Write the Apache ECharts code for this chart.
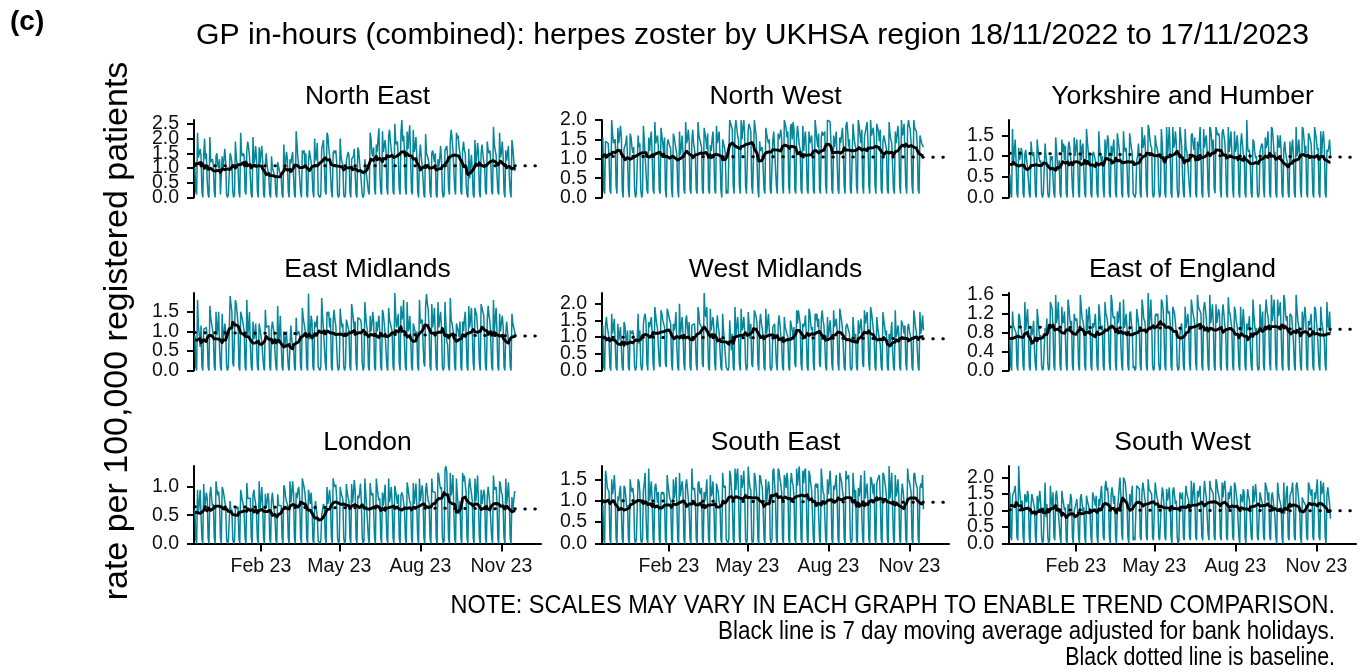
<!DOCTYPE html>
<html>
<head>
<meta charset="utf-8">
<script src="https://cdn.jsdelivr.net/npm/echarts@6/dist/echarts.min.js"></script>
<style>
html,body{margin:0;padding:0;background:#fff}
#chart{width:1371px;height:672px}
</style>
</head>
<body>
<div id="chart"></div>
<script>
// Daily GP in-hours herpes zoster rates per 100,000 registered patients,
// 18/11/2022 to 17/11/2023. Four weeks per row, each week Friday to Thursday.
const startDate = '2022-11-18';

const northEast = [
1.0,.2,.1,2.2,1.35,1.5,1.65, 1.4,.2,0,1.4,2.0,1.3,1.5, .55,.1,0,2.05,1.2,1.2,1.3, 1.1,.2,0,1.4,1.5,1.1,1.0,
1.3,.1,.1,1.4,.95,1.3,1.65, 1.2,.1,0,.1,.1,1.5,1.4, 1.2,.2,0,.1,1.9,1.4,1.1, 1.0,.2,0,2.2,1.5,1.4,1.5,
1.4,.2,.1,1.6,1.9,1.7,1.4, .65,.1,0,2.05,1.15,1.3,1.75, 1.3,.2,0,1.7,1.15,1.5,1.75, 1.2,.1,0,1.1,1.5,1.1,.9,
.7,.1,0,1.4,1.0,1.0,1.0, .7,.1,0,1.2,1.2,.9,.8, .7,.1,0,1.8,.95,1.2,1.55, 1.3,.2,0,1.3,1.15,1.2,1.55,
.75,.1,0,2.25,1.8,1.3,1.1, 1.1,.2,0,1.6,1.5,1.6,1.1, 1.5,.1,0,1.2,1.6,1.4,1.2, .9,.2,0,2.0,1.25,1.4,1.85,
.1,.1,0,.1,1.65,1.7,1.95, 1.2,.2,.1,2.2,2.1,1.7,1.4, 1.4,.2,0,1.5,1.6,1.5,1.6, 1.2,.1,0,.1,2.0,1.4,1.2,
1.1,.1,0,.1,1.25,1.3,1.55, 1.4,.2,0,1.3,1.25,1.4,1.65, .8,.1,0,1.7,1.6,1.2,.9, .9,.1,0,.1,1.3,1.0,1.0,
1.0,.2,.1,2.2,2.0,1.5,1.4, 1.7,.3,.1,1.8,1.55,2.0,2.35, .85,.2,.1,2.25,1.55,1.6,1.95, 1.6,.3,.1,2.1,2.3,1.9,1.6,
1.4,.2,.1,2.5,1.9,1.8,1.9, 1.3,.3,.1,2.2,2.63,1.9,2.1, 1.6,.3,.1,2.24,1.65,2.1,2.45, 1.2,.2,.1,2.3,1.55,1.7,2.05,
1.4,.2,0,1.4,1.8,1.4,1.1, .65,.1,0,2.15,1.5,1.4,1.3, 1.1,.2,0,1.5,1.6,1.4,1.2, 1.5,.1,0,1.3,1.05,1.3,1.75,
1.3,.2,0,.1,1.6,1.6,1.75, 1.4,.3,.1,1.94,2.3,2.0,1.6, 1.6,.3,.1,2.2,2.0,2.1,1.7, 1.5,.2,.1,1.6,1.9,1.6,1.5,
.45,.1,0,1.65,.65,1.1,1.45, .9,.1,0,1.95,1.15,1.4,1.85, 1.5,.2,0,1.5,1.8,1.5,1.2, 1.1,.2,.1,1.9,1.6,1.5,1.6,
1.2,.2,.1,2.4,1.8,1.6,1.45, .8,.2,.1,2.2,1.35,1.5,1.9, 1.4,.2,0,1.6,1.25,1.5,1.75, .75,.2,0,1.95,1.7,1.3,.9,
1.0
];

const northWest = [
1.55,.2,.1,1.45,1.5,1.5,1.4, 1.1,.2,.1,2.0,1.65,1.4,1.35, 1.5,.3,.1,1.8,1.4,1.6,1.85, 1.55,.2,0,1.25,1.3,1.4,1.6,
1.05,.2,0,1.65,1.55,1.3,1.15, 1.3,.2,0,.1,.1,1.6,1.3, 1.4,.2,0,.1,1.85,1.5,1.45, 1.45,.2,.1,1.55,1.2,1.5,1.7,
1.05,.2,.1,1.95,1.4,1.5,1.6, 1.3,.2,.1,1.8,1.75,1.4,1.15, 1.55,.2,0,1.35,1.5,1.4,1.4, 1.25,.2,0,1.65,1.55,1.4,1.25,
1.1,.2,0,1.7,1.1,1.3,1.6, 1.15,.2,.1,1.95,1.4,1.5,1.75, 1.45,.2,.1,1.45,1.75,1.4,1.25, 1.05,.2,.1,1.95,1.6,1.5,1.4,
1.3,.2,.1,1.8,1.65,1.5,1.25, 1.65,.2,.1,1.35,1.2,1.5,1.7, 1.15,.2,.1,1.85,1.4,1.4,1.7, 1.1,.2,0,1.5,1.55,1.3,1.15,
.1,.2,.1,.1,2.0,2.0,1.95, 1.75,.3,.1,1.75,2.0,1.8,1.6, 1.5,.3,.1,2.0,1.5,1.8,2.0, 1.6,.3,.1,.1,1.75,1.9,1.95,
1.7,.3,.1,.1,2.0,1.8,1.6, .95,.2,0,1.45,1.2,1.2,1.3, 1.3,.2,.1,1.8,1.75,1.5,1.4, 1.5,.2,.1,.1,1.5,1.7,1.7,
1.65,.3,.1,1.65,1.5,1.6,1.75, 1.5,.3,.1,2.0,2.0,1.8,1.55, 1.7,.3,.1,1.8,1.9,1.5,1.95, 1.75,.2,.1,1.55,1.85,1.6,1.35,
1.25,.2,.1,1.85,1.2,1.5,1.7, 1.2,.2,.1,1.7,1.4,1.5,1.6, 1.2,.2,.1,2.0,1.75,1.5,1.3, 1.65,.2,.1,1.55,1.7,1.6,1.6,
1.7,.3,.1,2.0,1.95,2.0,1.95, 1.4,.2,.1,1.6,1.3,1.5,1.7, 1.75,.2,.1,1.55,1.4,1.6,1.8, 1.35,.3,.1,1.85,1.95,1.7,1.3,
1.5,.2,.1,.1,1.9,1.6,1.4, 1.3,.3,.1,2.0,1.85,1.6,1.4, 1.75,.3,.1,1.55,1.5,1.6,1.95, 1.45,.3,.1,2.0,1.6,1.7,1.8,
1.5,.3,.1,1.9,1.95,1.7,1.45, 1.75,.2,.1,1.45,1.6,1.6,1.55, 1.25,.2,.1,1.95,1.65,1.5,1.4, 1.4,.2,.1,1.7,1.4,1.6,1.85,
1.5,.3,.1,2.0,1.6,1.7,1.9, 1.85,.3,.1,1.8,2.0,1.85,1.75, 1.4,.3,.1,2.0,1.8,1.8,1.7, 1.3,.2,.1,1.6,1.65,1.4,1.35,
1.3
];

const yorkshireHumber = [
.55,.1,0,1.65,.8,1.1,1.4, .9,.1,0,1.2,.9,1.0,1.2, 1.05,.1,0,1.05,1.15,.9,.75, .75,.1,0,1.35,1.1,1.0,1.1,
.8,.1,0,1.4,1.15,1.0,.85, .9,.1,0,.1,.1,1.3,1.0, .8,.1,0,.1,1.0,.9,1.0, .45,.1,0,1.45,1.15,.8,.65,
.9,.1,0,1.4,1.1,1.3,.9, 1.25,.1,0,1.15,1.35,1.2,.95, .75,.2,0,1.45,1.0,1.2,1.4, .9,.1,0,1.4,.9,1.2,1.3,
.65,.1,0,1.65,1.35,1.1,.85, 1.05,.1,0,1.05,1.1,1.1,1.1, .8,.1,0,1.6,1.15,1.0,.85, 1.0,.2,0,1.4,1.0,1.2,1.5,
1.35,.1,0,1.25,1.0,1.2,1.4, .85,.1,0,1.55,1.55,1.2,.95, .9,.1,0,1.6,1.2,1.1,1.2, .75,.1,0,1.55,1.35,1.2,1.05,
.1,.1,0,.1,.9,1.0,1.3, .9,.1,0,1.7,1.2,1.3,1.5, 1.1,.2,0,1.75,1.65,1.4,1.25, 1.2,.1,0,.1,1.5,1.3,1.2,
1.1,.2,0,.1,1.65,1.3,.85, 1.0,.1,0,1.7,1.0,1.3,1.7, 1.1,.1,0,1.7,1.2,1.3,1.6, 1.3,.2,0,.1,1.7,1.5,1.25,
.55,.1,0,1.65,1.2,1.1,1.1, 1.1,.2,0,1.5,1.55,1.3,1.15, 1.45,.1,0,1.35,1.0,1.3,1.7, .95,.1,0,1.65,1.2,1.4,1.5,
1.1,.2,0,1.7,1.65,1.4,1.05, 1.4,.2,.1,1.7,1.6,1.5,1.55, 1.45,.2,0,1.55,1.65,1.5,1.35, .9,.1,0,1.7,1.1,1.3,1.6,
1.1,.2,0,1.6,1.1,1.2,1.5, 1.25,.1,0,1.25,1.55,1.3,1.05, 1.0,.1,0,1.87,1.2,1.1,1.15, .8,.1,0,1.4,1.35,1.1,.95,
1.0,.1,0,.1,1.1,1.2,1.3, 1.25,.2,0,1.45,1.2,1.3,1.6, 1.1,.1,0,1.7,1.65,1.4,1.05, 1.1,.1,0,1.5,1.3,1.2,1.5,
1.15,.1,0,1.15,1.35,1.1,.95, .85,.1,0,1.35,.8,1.2,1.4, 1.0,.1,0,1.7,1.0,1.1,1.4, 1.1,.2,0,1.7,1.65,1.4,1.05,
1.25,.1,0,1.55,1.5,1.4,1.3, .9,.1,0,1.7,1.55,1.4,1.15, 1.2,.1,0,1.6,1.0,1.4,1.6, 1.25,.1,0,1.15,1.1,1.2,1.4,
1.0
];

const eastMidlands = [
.9,.1,0,1.81,1.15,.9,.6, 1.15,.1,0,1.05,1.1,1.0,1.1, .85,.1,0,1.65,1.35,1.2,1.05, .9,.1,0,1.5,.9,1.1,1.5,
.55,.1,0,1.45,.8,.9,1.2, 1.0,.1,0,.1,.1,1.9,1.7, 1.5,.2,.1,.1,1.8,1.7,1.7, 1.2,.1,0,1.5,1.45,1.3,1.15,
1.0,.1,0,1.81,.9,1.1,1.5, .65,.1,0,1.25,.8,.9,1.2, .7,.1,0,1.2,1.15,.9,.7, .65,.1,0,1.55,1.1,1.1,1.1,
1.15,.1,0,1.05,1.25,1.1,.95, .45,.1,0,1.65,.7,.9,1.4, .7,.1,0,1.0,.6,.8,1.0, .95,.1,0,.65,1.15,.8,.55,
.65,.1,0,1.35,.9,.9,1.0, .9,.1,0,1.6,1.35,1.2,1.05, .9,.1,0,1.97,.8,1.0,1.4, 1.25,.1,0,1.25,1.1,1.2,1.4,
.1,.1,0,.1,1.85,1.4,1.05, 1.1,.2,0,1.5,1.4,1.5,1.1, 1.35,.1,0,1.25,1.55,1.3,1.15, 1.1,.1,0,.1,1.58,1.3,1.1,
1.2,.1,0,.1,1.3,1.3,1.3, 1.0,.1,0,1.7,1.65,1.3,1.05, 1.25,.2,0,1.35,1.4,1.3,1.3, 1.2,.2,0,.1,1.75,1.4,1.15,
1.0,.1,0,1.4,1.0,1.2,1.5, 1.25,.1,0,1.25,1.0,1.2,1.4, .95,.1,0,1.55,1.45,1.2,.95, .9,.1,0,1.6,1.3,1.2,1.2,
1.0,.1,0,1.98,1.45,1.1,1.05, 1.45,.2,0,1.65,1.3,1.4,1.8, .65,.1,0,1.75,1.0,1.1,1.4, .9,.1,0,1.2,1.25,1.0,.75,
1.0,.1,0,1.81,1.2,1.2,1.3, 1.25,.2,.1,1.65,1.95,1.7,1.55, 1.0,.1,0,1.7,1.1,1.3,1.6, .85,.1,0,1.75,1.1,1.3,1.5,
1.1,.1,0,.1,1.75,1.2,.75, .65,.1,0,1.85,1.3,1.2,1.2, .9,.1,0,1.2,1.15,1.0,.85, 1.25,.1,0,1.25,1.0,1.3,1.5,
.95,.1,0,1.65,1.1,1.3,1.6, 1.0,.2,0,1.6,1.65,1.4,1.05, .95,.2,0,1.7,1.6,1.5,1.4, 1.35,.1,0,1.3,1.65,1.4,1.25,
.75,.1,0,1.8,1.0,1.3,1.6, 1.0,.1,0,1.45,1.0,1.2,1.4, 1.15,.1,0,.95,1.25,1.0,.75, .85,.1,0,1.45,1.2,1.2,1.2,
.9
];

const westMidlands = [
1.35,.1,0,1.35,1.6,1.3,1.15, .9,.1,0,1.7,1.1,1.3,1.55, .8,.1,0,1.4,.9,1.1,1.3, .65,.1,0,1.45,1.35,1.0,.75,
1.2,.1,0,1.2,1.2,1.1,1.2, 1.0,.1,0,.1,.1,1.7,.8, 1.2,.2,0,.1,1.4,1.6,1.7, 1.45,.2,0,1.45,1.3,1.3,1.6,
1.1,.2,0,1.9,1.85,1.4,1.25, 1.2,.2,.1,1.8,1.7,1.5,1.55, 1.3,.2,.1,1.85,1.75,1.6,1.6, 1.4,.2,0,1.4,1.2,1.4,1.75,
.7,.1,0,2.0,1.1,1.3,1.6, 1.1,.2,0,1.5,1.65,1.3,1.05, 1.45,.1,0,1.35,1.3,1.3,1.4, 1.0,.2,0,1.9,1.7,1.4,1.35,
1.3,.2,.1,2.32,1.7,1.6,1.9, .95,.1,0,1.85,1.2,1.4,1.6, 1.3,.2,0,1.3,1.65,1.3,1.15, .6,.1,0,1.7,1.2,1.2,1.2,
.1,.1,0,.1,1.5,1.0,.6, 1.1,.1,0,1.9,1.0,1.3,1.6, 1.2,.2,0,1.85,1.2,1.3,1.6, 1.2,.2,0,.1,1.75,1.4,.95,
1.4,.2,.1,.1,1.8,1.8,1.6, 1.4,.2,0,1.4,1.7,1.4,1.25, .95,.1,0,1.85,1.1,1.4,1.7, 1.2,.1,0,.1,1.3,1.3,1.4,
1.35,.2,0,1.35,1.65,1.4,1.05, .8,.1,0,1.6,1.3,1.2,1.2, 1.0,.1,0,1.5,1.5,1.2,1.0, 1.3,.2,.1,1.8,1.4,1.8,1.8,
1.4,.2,0,1.4,1.3,1.4,1.65, 1.05,.1,0,1.85,1.75,1.4,1.2, 1.3,.2,0,1.7,1.5,1.7,1.3, 1.55,.2,.1,1.55,1.8,1.5,1.35,
.8,.1,0,1.6,1.0,1.2,1.5, 1.1,.2,0,1.8,1.3,1.4,1.55, 1.2,.2,0,1.85,1.85,1.5,1.25, 1.3,.1,0,1.3,1.4,1.3,1.25,
1.1,.1,0,.1,1.6,1.2,.8, 1.1,.1,0,1.5,1.1,1.3,1.55, 1.2,.2,.1,1.8,1.4,1.6,1.75, 1.1,.2,0,1.9,1.75,1.5,1.25,
1.0,.1,0,1.6,1.3,1.3,1.35, .75,.1,0,1.75,1.5,1.3,1.05, 1.2,.1,0,1.1,.8,1.1,1.45, .6,.1,0,1.8,1.0,1.1,1.35,
1.1,.1,0,1.5,1.55,1.3,1.1, 1.35,.2,0,1.25,1.4,1.2,1.25, .9,.1,0,1.8,1.6,1.3,1.15, 1.1,.1,0,1.75,1.1,1.3,1.65,
1.2
];

const eastOfEngland = [
.65,.1,0,1.25,.95,.9,.9, .8,.1,0,1.2,1.15,.95,.85, .7,.1,0,1.45,.85,1.05,1.3, .9,.1,0,.9,.75,.85,1.05,
.4,.1,0,1.3,1.1,.85,.65, .75,.1,0,.05,.05,.9,.8, 1.1,.15,0,.05,1.45,1.45,1.3, .85,.1,0,1.6,1.0,1.15,1.45,
.85,.1,0,1.35,1.0,1.05,1.25, .75,.1,0,1.5,1.35,1.1,.95, 1.05,.1,0,1.2,1.1,1.05,1.1, .8,.1,0,1.6,1.35,1.1,1.05,
.9,.1,0,1.3,.85,1.1,1.35, 1.05,.1,0,1.0,.9,1.0,1.2, .8,.1,0,1.4,1.2,.95,.85, .95,.1,0,1.45,1.2,1.15,1.15,
.85,.15,0,1.6,1.45,1.15,1.1, 1.15,.1,0,1.25,1.0,1.2,1.45, .55,.1,0,1.5,.9,1.0,1.2, .9,.1,0,1.2,1.25,1.0,.85,
.05,.1,0,.05,1.3,1.15,1.0, .85,.1,0,1.5,1.35,1.1,1.05, .9,.1,0,1.64,.9,1.1,1.5, 1.05,.1,0,.05,1.15,1.2,1.15,
1.2,.15,0,.05,1.5,1.45,1.3, .85,.1,0,1.6,1.3,1.2,1.25, 1.0,.1,0,1.35,1.35,1.2,1.0, .8,.1,0,.05,.75,.9,1.0,
.7,.1,0,1.35,.9,1.0,1.2, 1.0,.15,0,1.5,1.5,1.2,1.1, .95,.15,0,1.6,1.35,1.3,1.3, 1.2,.1,0,1.3,1.45,1.3,1.1,
.75,.1,0,1.6,1.0,1.15,1.4, 1.0,.1,0,1.4,1.0,1.15,1.3, 1.2,.1,0,1.15,1.4,1.2,.95, .85,.1,0,1.55,1.25,1.2,1.2,
.9,.1,0,1.35,1.25,1.05,.95, .65,.1,0,1.35,.75,.95,1.3, 1.0,.1,0,1.0,.85,.95,1.15, .5,.1,0,1.5,1.2,.95,.8,
.9,.1,0,.05,1.4,1.05,.8, 1.25,.1,0,1.2,1.5,1.25,1.15, .95,.15,0,1.6,1.05,1.25,1.5, 1.0,.1,0,1.5,1.15,1.25,1.45,
.85,.1,0,1.6,1.5,1.2,1.05, 1.15,.1,0,1.2,1.2,1.15,1.15, .6,.1,0,1.6,1.3,1.05,.95, .95,.1,0,1.25,.85,1.1,1.35,
1.1,.1,0,1.05,.95,1.05,1.2, .75,.1,0,1.35,1.3,1.05,.85, .85,.1,0,1.35,1.05,1.05,1.05, .65,.1,0,1.45,.95,.9,1.25,
.8
];

const london = [
.6,.08,0,.95,.55,.7,.95, .5,.08,0,1.05,.65,.75,.9, .8,.1,0,.85,1.0,.8,.65, .7,.1,0,1.1,.95,.85,.92,
.7,.1,0,1.0,.95,.85,.74, .65,.08,0,.05,.05,.75,.55, .6,.08,0,.05,.6,.6,.6, .65,.08,0,.95,.95,.75,.68,
.5,.08,0,1.07,.8,.77,.77, .8,.1,0,.85,.95,.8,.7, .5,.08,0,1.1,.6,.78,1.0, .65,.08,0,.88,.62,.73,.89,
.75,.08,0,.75,.9,.72,.58, .45,.07,0,.87,.67,.65,.65, .67,.1,0,1.03,.98,.82,.74, .7,.1,0,1.1,.72,.9,1.1,
.9,.1,0,.9,.8,.95,1.0, .77,.1,0,1.15,1.15,.99,.88, .7,.1,0,.95,.85,.7,.9, .65,.07,0,.6,.75,.6,.48,
.05,.07,0,.05,.5,.5,.7, .65,.1,0,1.0,.7,.8,.95, .7,.1,0,1.15,1.05,1.0,1.04, .8,.1,0,.05,1.0,.9,.91,
.78,.1,0,.05,1.05,.9,.81, .75,.1,0,1.05,.72,.88,1.12, .93,.1,0,.85,.8,.88,1.06, .75,.1,0,.05,1.15,.9,.65,
.67,.1,0,1.07,.9,.85,.89, .57,.1,0,1.15,.98,.85,.76, .8,.1,0,.9,.67,.83,1.04, .58,.1,0,1.15,.73,.85,1.0,
.7,.1,0,1.02,1.0,.82,.7, .87,.1,0,.85,.9,.85,.84, .6,.1,0,1.08,.98,.84,.74, .7,.1,0,1.07,.7,.85,1.06,
.65,.1,0,1.15,.75,.87,1.03, .87,.1,0,.95,1.07,.88,.75, .71,.1,0,1.15,.92,.9,.91, .9,.1,0,1.25,1.2,1.05,.96,
1.0,.12,0,.05,1.3,1.37,1.26, .75,.1,0,1.25,.85,.95,1.21, .6,.08,0,1.15,.85,.65,.52, .75,.1,0,1.25,1.1,1.2,1.2,
.9,.1,0,1.0,1.15,1.0,.89, .75,.1,0,1.15,.75,.95,1.2, .7,.1,0,.95,.7,.8,.95, .87,.1,0,.83,1.0,.85,.69,
.7,.1,0,1.2,.95,.95,1.0, .75,.1,0,1.1,1.05,.9,.86, .6,.1,0,1.15,.7,.85,1.08, .75,.08,0,.82,.6,.75,.92,
.9
];

const southEast = [
.9,.1,0,1.7,1.55,1.3,1.25, 1.2,.1,0,1.5,1.15,1.3,1.6, 1.2,.1,0,1.1,1.0,1.2,1.35, .75,.1,0,1.35,1.3,1.1,.85,
.9,.1,0,1.5,1.3,1.2,1.3, 1.1,.1,0,.1,.1,1.5,1.45, 1.2,.1,0,.1,1.25,1.4,1.65, .65,.1,0,1.75,1.0,1.2,1.45,
1.0,.1,0,1.3,1.4,1.2,.95, 1.2,.1,0,1.15,1.2,1.15,1.2, 1.0,.1,0,1.6,1.35,1.2,1.05, 1.0,.1,0,1.5,1.05,1.25,1.55,
.9,.1,0,1.65,1.1,1.3,1.45, 1.2,.1,0,1.35,1.5,1.3,1.05, .75,.1,0,1.75,1.3,1.25,1.3, 1.0,.1,0,1.4,1.45,1.2,1.15,
1.3,.1,0,1.2,1.0,1.2,1.5, .85,.1,0,1.6,1.1,1.2,1.45, .9,.1,0,1.4,1.4,1.2,.95, .9,.1,0,1.65,1.35,1.3,1.35,
.1,.1,0,.1,1.7,1.6,1.6, 1.0,.1,0,1.75,1.25,1.6,1.75, 1.2,.1,0,1.6,1.3,1.45,1.7, 1.2,.1,0,.1,1.8,1.5,1.3,
1.25,.1,0,.1,1.65,1.55,1.55, 1.05,.1,0,1.6,1.55,1.4,1.3, .8,.1,0,1.5,.95,1.2,1.45, 1.3,.1,0,.1,1.7,1.75,1.75,
1.05,.1,0,1.75,1.7,1.5,1.4, 1.2,.1,0,1.6,1.5,1.3,1.65, 1.45,.1,0,1.35,1.65,1.45,1.35, 1.1,.1,0,1.75,1.35,1.6,1.8,
1.2,.1,0,1.7,1.4,1.7,1.75, 1.1,.1,0,1.7,1.6,1.4,1.25, 1.25,.1,0,1.35,1.4,1.3,1.4, .65,.1,0,1.75,1.45,1.2,1.15,
1.15,.1,0,1.5,1.15,1.4,1.7, 1.3,.1,0,1.35,1.25,1.4,1.6, 1.05,.1,0,1.65,1.65,1.45,1.25, 1.1,.1,0,1.7,1.5,1.5,1.6,
1.1,.1,0,.1,1.65,1.3,1.05, 1.25,.1,0,1.3,1.1,1.3,1.6, .65,.1,0,1.7,1.05,1.25,1.4, 1.0,.1,0,1.55,1.5,1.35,1.15,
1.4,.1,0,1.4,1.5,1.5,1.6, 1.05,.1,0,1.65,1.6,1.45,1.3, 1.1,.1,0,1.81,1.05,1.3,1.65, .8,.1,0,1.6,1.1,1.2,1.5,
1.15,.1,0,1.15,1.4,1.2,.95, .9,.1,0,1.75,1.5,1.45,1.45, 1.2,.1,0,1.6,1.65,1.45,1.35, 1.3,.1,0,1.3,1.4,1.3,1.6,
.8
];

const southWest = [
1.55,.2,.1,1.45,1.4,1.6,1.75, 1.3,.2,.1,2.35,1.65,1.35,1.1, 1.3,.2,0,1.5,1.5,1.25,1.6, 1.45,.2,0,1.15,1.5,1.35,1.2,
1.05,.2,0,1.45,1.0,1.35,1.6, 1.2,.2,0,.1,.1,1.85,.8, 1.2,.2,0,.1,1.75,1.3,1.1, 1.55,.2,.1,1.45,1.6,1.55,1.6,
.6,.2,0,1.6,1.35,1.2,1.0, 1.1,.1,0,1.2,.9,1.15,1.5, 1.35,.2,0,1.0,1.0,1.2,1.35, .95,.2,0,1.35,1.5,1.2,.95,
1.1,.2,0,1.45,1.3,1.3,1.3, .95,.2,0,1.55,1.5,1.3,1.15, 1.45,.2,0,1.35,1.15,1.45,1.75, 1.2,.2,.1,1.7,1.9,1.6,1.7,
1.3,.2,0,1.5,1.7,1.45,1.2, 1.45,.2,0,1.05,1.3,1.3,2.0, 1.45,.3,.1,2.0,1.95,1.85,1.8, 1.2,.2,0,1.5,1.1,1.45,1.75,
.1,.2,.1,.1,1.75,1.7,1.8, 1.65,.2,.1,1.55,1.85,1.65,1.4, 1.2,.2,.1,1.95,1.65,1.65,1.65, 1.5,.2,.1,.1,1.85,1.6,1.4,
1.3,.2,.1,.1,1.25,1.7,1.55, 1.15,.2,.1,1.65,1.3,1.45,1.7, 1.2,.2,0,1.6,1.7,1.45,1.2, 1.3,.2,0,.1,1.55,1.45,1.35,
1.55,.2,.1,1.35,1.75,1.5,1.4, 1.3,.2,.1,1.9,1.2,1.5,1.85, 1.4,.2,.1,1.6,1.4,1.6,1.75, 1.75,.2,.1,1.45,1.9,1.6,1.4,
1.35,.3,.1,1.9,1.7,1.75,1.65, 1.5,.2,.1,1.95,1.85,1.6,1.55, 1.35,.2,.1,1.85,1.4,1.75,1.9, 1.55,.2,.1,1.55,1.35,1.55,1.75,
1.15,.2,.1,1.85,1.75,1.5,1.3, 1.3,.2,0,1.5,1.45,1.25,1.65, 1.55,.2,0,1.2,1.65,1.45,1.3, 1.25,.2,.1,1.75,1.25,1.5,1.8,
1.4,.2,.1,.1,1.55,1.6,1.6, 1.15,.2,.1,1.85,1.85,1.6,1.3, 1.55,.2,.1,1.4,1.55,1.5,1.55, .8,.2,0,1.85,1.55,1.35,1.25,
1.1,.2,0,1.85,.9,1.2,1.6, 1.75,.2,.1,1.45,1.45,1.6,1.85, 1.25,.2,.1,1.75,1.85,1.6,1.3, 1.1,.2,0,1.4,1.3,1.3,1.35,
1.15,.2,.1,1.85,1.75,1.55,1.45, 1.65,.2,.1,1.55,1.35,1.6,1.95, 1.25,.2,.1,1.9,1.5,1.6,1.85, 1.3,.2,0,1.5,1.7,1.45,1.2,
.75
];

// Baseline (start and end of the period it covers)
const baselineDates = ['2022-11-18', '2023-12-15'];
const baselineNorthEast = [1.08, 1.08];
const baselineNorthWest = [1.06, 1.04];
const baselineYorkshireHumber = [1.07, 0.97];
const baselineEastMidlands = [0.97, 0.88];
const baselineWestMidlands = [1.0, 0.95];
const baselineEastOfEngland = [0.92, 0.87];
const baselineLondon = [0.65, 0.61];
const baselineSouthEast = [1.0, 0.96];
const baselineSouthWest = [1.02, 0.99];

// Bank holidays in England over the period
const bankHolidays = ['2022-12-26', '2022-12-27', '2023-01-02', '2023-04-07', '2023-04-10',
  '2023-05-01', '2023-05-08', '2023-05-29', '2023-08-28'];

// Axis ticks
const ticksNorthEast = ['0.0', '0.5', '1.0', '1.5', '2.0', '2.5'];
const ticksNorthWest = ['0.0', '0.5', '1.0', '1.5', '2.0'];
const ticksYorkshireHumber = ['0.0', '0.5', '1.0', '1.5'];
const ticksEastMidlands = ['0.0', '0.5', '1.0', '1.5'];
const ticksWestMidlands = ['0.0', '0.5', '1.0', '1.5', '2.0'];
const ticksEastOfEngland = ['0.0', '0.4', '0.8', '1.2', '1.6'];
const ticksLondon = ['0.0', '0.5', '1.0'];
const ticksSouthEast = ['0.0', '0.5', '1.0', '1.5'];
const ticksSouthWest = ['0.0', '0.5', '1.0', '1.5', '2.0'];
const xTickDates = ['2023-02-01', '2023-05-01', '2023-08-01', '2023-11-01'];
const xTickLabels = ['Feb 23', 'May 23', 'Aug 23', 'Nov 23'];
const xRange = ['2022-11-17', '2023-12-16'];

const panels = [
  { name: 'North East', daily: northEast, baseline: baselineNorthEast, ticks: ticksNorthEast },
  { name: 'North West', daily: northWest, baseline: baselineNorthWest, ticks: ticksNorthWest },
  { name: 'Yorkshire and Humber', daily: yorkshireHumber, baseline: baselineYorkshireHumber, ticks: ticksYorkshireHumber },
  { name: 'East Midlands', daily: eastMidlands, baseline: baselineEastMidlands, ticks: ticksEastMidlands },
  { name: 'West Midlands', daily: westMidlands, baseline: baselineWestMidlands, ticks: ticksWestMidlands },
  { name: 'East of England', daily: eastOfEngland, baseline: baselineEastOfEngland, ticks: ticksEastOfEngland },
  { name: 'London', daily: london, baseline: baselineLondon, ticks: ticksLondon },
  { name: 'South East', daily: southEast, baseline: baselineSouthEast, ticks: ticksSouthEast },
  { name: 'South West', daily: southWest, baseline: baselineSouthWest, ticks: ticksSouthWest }
];

const DAY = 864e5;
const t0 = Date.parse(startDate);
const holidayIndex = new Set(bankHolidays.map(d => Math.round((Date.parse(d) - t0) / DAY)));

// 7 day moving average; a bank holiday takes the value of the same weekday in an earlier ordinary week
function movingAverage(values) {
  const adj = values.slice();
  for (let i = 0; i < adj.length; i++) {
    if (holidayIndex.has(i)) {
      let j = i - 7;
      while (j >= 0 && holidayIndex.has(j)) j -= 7;
      if (j >= 0) adj[i] = values[j];
    }
  }
  const n = adj.length, out = [];
  for (let i = 0; i < n; i++) {
    const lo = Math.min(Math.max(i - 3, 0), n - 7);
    let s = 0;
    for (let k = lo; k < lo + 7; k++) s += adj[k];
    out.push(+(s / 7).toFixed(4));
  }
  return out;
}

const FONT = '"Liberation Sans", Arial, Helvetica, sans-serif';
const TEAL = '#06869a';
const colLeft = [194, 602, 1009];
const rowTop = [120, 293, 466];
const plotW = 347, plotH = 77.5;
const tickFont = 19.5;

const xMin = Date.parse(xRange[0]), xMax = Date.parse(xRange[1]);
const xTickVals = xTickDates.map(d => Date.parse(d));

const grid = [], xAxis = [], yAxis = [], series = [], graphic = [];

panels.forEach((p, g) => {
  const row = Math.floor(g / 3), col = g % 3;
  grid.push({ left: colLeft[col], top: rowTop[row], width: plotW, height: plotH, containLabel: false });

  // dates are held as millisecond timestamps on a linear axis
  if (row === 2) {
    xAxis.push({
      type: 'value', gridIndex: g, min: xMin, max: xMax, scale: true,
      axisLine: { show: true, onZero: false, lineStyle: { color: '#000', width: 2 } },
      axisTick: { show: true, length: 8, lineStyle: { color: '#000', width: 2 }, customValues: xTickVals },
      axisLabel: {
        show: true, customValues: xTickVals, fontSize: tickFont, fontFamily: FONT, color: '#111', margin: 13,
        interval: 0, hideOverlap: false,
        formatter: v => { const i = xTickVals.indexOf(+v); return i >= 0 ? xTickLabels[i] : ''; }
      },
      splitLine: { show: false }
    });
  } else {
    xAxis.push({ type: 'value', gridIndex: g, min: xMin, max: xMax, scale: true, show: false });
  }

  const tickVals = p.ticks.map(Number);
  yAxis.push({
    type: 'value', gridIndex: g, min: 0, max: 'dataMax',
    axisLine: { show: true, onZero: false, lineStyle: { color: '#000', width: 2 } },
    axisTick: { show: true, length: 7, lineStyle: { color: '#000', width: 2 }, customValues: tickVals },
    // tick labels are drawn as graphic text below so that none is dropped when they crowd
    axisLabel: { show: false },
    splitLine: { show: false }
  });

  const times = p.daily.map((_, i) => t0 + i * DAY);
  const ma = movingAverage(p.daily);

  series.push({
    type: 'line', xAxisIndex: g, yAxisIndex: g, z: 2, silent: true,
    showSymbol: false, symbol: 'none', animation: false,
    lineStyle: { color: TEAL, width: 1.5 },
    data: p.daily.map((v, i) => [times[i], v])
  });
  series.push({
    type: 'line', xAxisIndex: g, yAxisIndex: g, z: 3, silent: true,
    showSymbol: false, symbol: 'none', animation: false,
    lineStyle: { color: '#000', width: 3, type: [0.5, 9.5], cap: 'round' },
    data: baselineDates.map((d, i) => [Date.parse(d), p.baseline[i]])
  });
  series.push({
    type: 'line', xAxisIndex: g, yAxisIndex: g, z: 4, silent: true,
    showSymbol: false, symbol: 'none', animation: false,
    lineStyle: { color: '#000', width: 2.9, join: 'round' },
    data: ma.map((v, i) => [times[i], v])
  });

  graphic.push({
    type: 'text', x: colLeft[col] + plotW / 2, y: rowTop[row] - 23, silent: true,
    style: { text: p.name, font: '26.5px ' + FONT, fill: '#000', textAlign: 'center', textVerticalAlign: 'middle' }
  });
});

graphic.push(
  { type: 'text', x: 10, y: 22, silent: true,
    style: { text: '(c)', font: 'bold 28px ' + FONT, fill: '#000', textAlign: 'left', textVerticalAlign: 'middle' } },
  { type: 'text', x: 196, y: 36, silent: true,
    style: { text: 'GP in-hours (combined): herpes zoster by UKHSA region 18/11/2022 to 17/11/2023',
      font: '30.2px ' + FONT, fill: '#000', textAlign: 'left', textVerticalAlign: 'middle' } },
  { type: 'text', x: 118, y: 331, rotation: Math.PI / 2, silent: true,
    style: { text: 'rate per 100,000 registered patients', font: '34px ' + FONT, fill: '#000',
      textAlign: 'center', textVerticalAlign: 'middle' } }
);

// footnote lines, condensed horizontally
const notes = ['NOTE: SCALES MAY VARY IN EACH GRAPH TO ENABLE TREND COMPARISON.',
  'Black line is 7 day moving average adjusted for bank holidays.',
  'Black dotted line is baseline.'];
const noteScale = [0.94, 0.895, 0.855];
notes.forEach((t, i) => graphic.push({
  type: 'text', x: 1335, y: 606 + i * 26, scaleX: noteScale[i], silent: true,
  style: { text: t, font: '25px ' + FONT, fill: '#000', textAlign: 'right', textVerticalAlign: 'middle' }
}));

const chart = echarts.init(document.getElementById('chart'), null, { renderer: 'canvas' });
chart.setOption({ animation: false, backgroundColor: '#fff', grid, xAxis, yAxis, series, graphic });

// y tick labels placed through each grid's own scale
const tickLabels = [];
panels.forEach((p, g) => {
  p.ticks.forEach(label => {
    const pt = chart.convertToPixel({ gridIndex: g }, [xMin, Number(label)]);
    tickLabels.push({
      type: 'text', x: pt[0] - 15, y: pt[1], silent: true,
      style: { text: label, font: tickFont + 'px ' + FONT, fill: '#111', textAlign: 'right', textVerticalAlign: 'middle' }
    });
  });
});
chart.setOption({ graphic: graphic.concat(tickLabels) });
</script>
</body>
</html>
